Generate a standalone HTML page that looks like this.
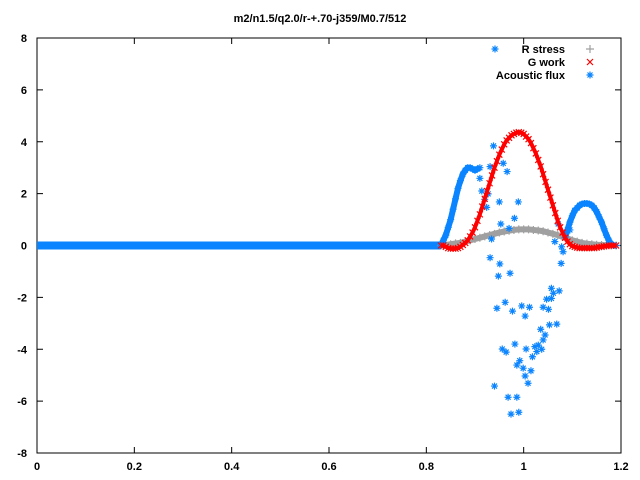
<!DOCTYPE html>
<html><head><meta charset="utf-8"><style>
html,body{margin:0;padding:0;background:#fff}
svg{display:block}
text{font-family:"Liberation Sans",sans-serif;font-size:11px;fill:#000}
</style></head><body>
<svg id="chart" width="640" height="480" viewBox="0 0 640 480" xmlns="http://www.w3.org/2000/svg">
<rect width="640" height="480" fill="#fff"/>
<text x="320" y="22" text-anchor="middle" font-weight="bold">m2/n1.5/q2.0/r-+.70-j359/M0.7/512</text>
<g id="axes"></g>
<g id="marks"></g>
<g id="legend">
<g><text x="565" y="53" text-anchor="end" font-weight="bold">R stress</text></g>
<g><text x="565" y="66" text-anchor="end" font-weight="bold">G work</text></g>
<g><text x="565" y="79" text-anchor="end" font-weight="bold">Acoustic flux</text></g>
</g>
</svg>
<script>
const xTicks=[0,0.2,0.4,0.6,0.8,1,1.2];
const xTickLabels=["0","0.2","0.4","0.6","0.8","1","1.2"];
const yTicks=[-8,-6,-4,-2,0,2,4,6,8];
const yTickLabels=["-8","-6","-4","-2","0","2","4","6","8"];
const redX=[0.83,0.835,0.84,0.845,0.85,0.855,0.86,0.865,0.87,0.875,0.88,0.885,0.89,0.895,0.9,0.905,0.91,0.915,0.92,0.925,0.93,0.935,0.94,0.945,0.95,0.955,0.96,0.965,0.97,0.975,0.98,0.985,0.99,0.995,1.0,1.005,1.01,1.015,1.02,1.025,1.03,1.035,1.04,1.045,1.05,1.055,1.06,1.065,1.07,1.075,1.08,1.085,1.09,1.095,1.1,1.105,1.11,1.115,1.12,1.125,1.13,1.135,1.14,1.145,1.15,1.155,1.16,1.165,1.17,1.175,1.18,1.185,1.19];
const gWork=[0,0,-0.05,-0.1,-0.12,-0.12,-0.12,-0.1,-0.05,0.02,0.1,0.2,0.35,0.5,0.7,0.95,1.2,1.5,1.8,2.1,2.4,2.7,3.0,3.25,3.5,3.7,3.9,4.05,4.15,4.25,4.3,4.35,4.37,4.35,4.3,4.2,4.1,3.95,3.75,3.55,3.3,3.05,2.75,2.45,2.15,1.85,1.55,1.25,0.95,0.7,0.5,0.3,0.15,0.05,-0.02,-0.05,-0.08,-0.1,-0.1,-0.1,-0.1,-0.1,-0.1,-0.1,-0.08,-0.06,-0.05,-0.03,-0.02,0,0,0,0];
const grayX=[0.83,0.84,0.85,0.86,0.87,0.88,0.89,0.9,0.91,0.92,0.93,0.94,0.95,0.96,0.97,0.98,0.99,1.0,1.01,1.02,1.03,1.04,1.05,1.06,1.07,1.08,1.09,1.1,1.11,1.12,1.13,1.14,1.15,1.16,1.17,1.18,1.19];
const rStress=[0,0.02,0.05,0.08,0.1,0.15,0.2,0.25,0.3,0.35,0.4,0.45,0.5,0.54,0.57,0.6,0.62,0.62,0.62,0.6,0.58,0.55,0.5,0.45,0.4,0.33,0.27,0.2,0.15,0.1,0.07,0.05,0.03,0.02,0.01,0,0];
const hump1X=[0.83,0.835,0.84,0.845,0.85,0.855,0.86,0.865,0.87,0.875,0.88,0.885,0.89,0.895,0.9,0.905,0.91];
const hump1Y=[0,0.2,0.4,0.7,1.0,1.4,1.8,2.2,2.5,2.75,2.9,3.0,3.0,2.95,2.9,2.95,3.0];
const hump2X=[1.085,1.09,1.095,1.1,1.105,1.11,1.115,1.12,1.125,1.13,1.135,1.14,1.145,1.15,1.155,1.16,1.165,1.17,1.175,1.18,1.185,1.19];
const hump2Y=[0.3,0.6,0.9,1.15,1.35,1.45,1.55,1.6,1.62,1.62,1.6,1.55,1.45,1.3,1.1,0.9,0.65,0.4,0.2,0.05,0,0];
const scatterX=[0.938,0.958,0.966,0.931,0.91,0.914,0.92,0.927,0.924,0.95,0.989,0.981,0.953,0.97,0.934,0.931,0.951,0.948,0.972,0.945,0.962,0.977,0.996,1.012,1.003,0.956,0.964,0.982,1.005,0.986,0.992,0.999,1.003,1.015,1.009,0.94,0.968,0.986,0.974,0.99,1.018,1.023,1.027,1.03,1.037,1.04,1.044,1.035,1.053,1.068,1.04,1.051,1.047,1.057,1.061,1.057,1.073,1.064,1.071,1.078,1.081,1.077,1.095];
const scatterY=[3.84,3.17,2.85,3.04,2.59,2.1,1.78,1.99,1.47,1.68,1.68,1.05,0.83,0.66,0.25,-0.47,-0.71,-1.18,-1.07,-2.42,-2.19,-2.53,-2.33,-2.38,-2.72,-3.99,-4.11,-3.8,-3.99,-4.61,-4.44,-4.73,-5.03,-4.83,-5.31,-5.42,-5.85,-5.85,-6.5,-6.43,-4.29,-3.9,-4.09,-3.84,-4.0,-3.64,-3.45,-3.23,-3.06,-3.03,-2.38,-2.46,-2.07,-2.04,-1.84,-1.65,-1.75,0.15,0.83,-0.05,-0.24,-0.69,0.6];
const flatStart=0, flatEnd=0.83;

const L=37,R=621,T=38,B=453;
const sx=v=>L+(v-0)/(1.2-0)*(R-L);
const sy=v=>B-(v+8)/16*(B-T);
const NS="http://www.w3.org/2000/svg";
function mk(tag,parent){const e=document.createElementNS(NS,tag);parent.appendChild(e);return e;}
const axes=document.getElementById('axes'), marks=document.getElementById('marks');
const frame=mk('rect',axes);


frame.setAttribute('x',L);frame.setAttribute('y',T);frame.setAttribute('width',R-L);frame.setAttribute('height',B-T);
frame.setAttribute('fill','none');frame.setAttribute('stroke','#000');
xTicks.forEach((v,i)=>{
  const p=mk('path',axes);
  
  
  p.setAttribute('d',`M${sx(v)} ${B}v-6M${sx(v)} ${T}v6`);p.setAttribute('stroke','#000');
  const t=mk('text',axes);
  
  
  t.setAttribute('x',sx(v));t.setAttribute('y',B+17);t.setAttribute('text-anchor','middle');t.setAttribute('font-weight','bold');
  t.textContent=xTickLabels[i];
});
yTicks.forEach((v,i)=>{
  const p=mk('path',axes);
  
  
  p.setAttribute('d',`M${L} ${sy(v)}h6M${R} ${sy(v)}h-6`);p.setAttribute('stroke','#000');
  const t=mk('text',axes);
  
  
  t.setAttribute('x',27);t.setAttribute('y',sy(v)+4);t.setAttribute('text-anchor','end');t.setAttribute('font-weight','bold');
  t.textContent=yTickLabels[i];
});
function star(g,x,y,c){const p=mk('path',g);p.setAttribute('d',`M${x-3.5} ${y}h7M${x} ${y-3.5}v7M${x-2.5} ${y-2.5}l5 5M${x-2.5} ${y+2.5}l5 -5`);p.setAttribute('stroke',c);p.setAttribute('stroke-width','1.2');return p;}
function plus(g,x,y,c){const p=mk('path',g);p.setAttribute('d',`M${x-4} ${y}h8M${x} ${y-4}v8`);p.setAttribute('stroke',c);p.setAttribute('stroke-width','1.2');return p;}
function cross(g,x,y,c){const p=mk('path',g);p.setAttribute('d',`M${x-3} ${y-3}l6 6M${x-3} ${y+3}l6 -6`);p.setAttribute('stroke',c);p.setAttribute('stroke-width','1.2');return p;}
function line(xs,ys,c,w,name){const p=mk('polyline',marks);
  
  
  p.setAttribute('points',xs.map((x,i)=>sx(x)+','+sy(ys[i])).join(' '));
  p.setAttribute('fill','none');p.setAttribute('stroke',c);p.setAttribute('stroke-width',w);}
const BLUE='#0a84ff', RED='#ff0000', GRAY='#a0a0a0';
const flat=mk('rect',marks);


flat.setAttribute('x',sx(flatStart));flat.setAttribute('y',sy(0)-4);flat.setAttribute('width',sx(flatEnd)-sx(flatStart));flat.setAttribute('height',8);flat.setAttribute('fill',BLUE);
line(grayX,rStress,GRAY,6,'r-stress-line');
const gg=mk('g',marks);


grayX.forEach((x,i)=>{const m=plus(gg,sx(x),sy(rStress[i]),GRAY);
  
  });
line(hump1X,hump1Y,BLUE,6,'acoustic-flux-hump1');
line(hump2X,hump2Y,BLUE,6,'acoustic-flux-hump2');
const bg=mk('g',marks);


hump1X.forEach((x,i)=>{const m=star(bg,sx(x),sy(hump1Y[i]),BLUE);
  
  });
hump2X.forEach((x,i)=>{const m=star(bg,sx(x),sy(hump2Y[i]),BLUE);
  
  });
line(redX,gWork,RED,4,'g-work-line');
const rg=mk('g',marks);


redX.forEach((x,i)=>{const m=cross(rg,sx(x),sy(gWork[i]),RED);
  
  });
scatterX.forEach((x,i)=>{const m=star(bg,sx(x),sy(scatterY[i]),BLUE);
  
  });
const lg=document.getElementById('legend');
const s1=star(lg,495,49,BLUE);


const s2=plus(lg,590,49,GRAY);


const s3=cross(lg,590,62,RED);


const s4=star(lg,590,75,BLUE);


</script>
</body></html>
